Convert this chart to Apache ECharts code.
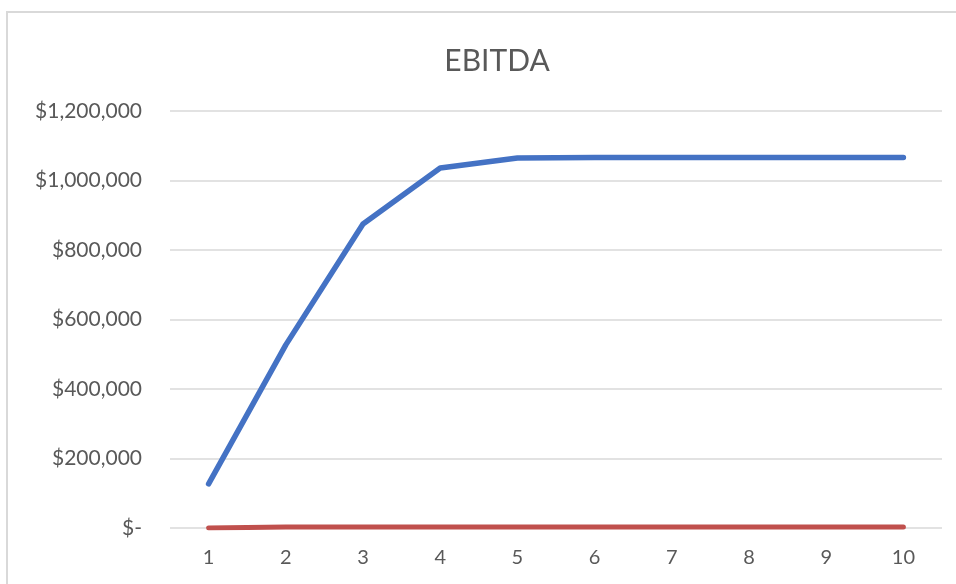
<!DOCTYPE html>
<html><head><meta charset="utf-8">
<script src="https://cdn.jsdelivr.net/npm/echarts@6/dist/echarts.min.js"></script>
<style>html,body{margin:0;padding:0;background:#fff}#c{width:956px;height:584px}</style>
</head><body><div id="c"></div>
<script>
const categories = ['1','2','3','4','5','6','7','8','9','10'];
const ebitda = [127000, 527000, 875000, 1036000, 1065000, 1066000, 1066000, 1066000, 1066000, 1066000];
const secondSeries = [0, 3000, 3000, 3000, 3000, 3000, 3000, 3000, 3000, 3000];
const yTicks = [0, 200000, 400000, 600000, 800000, 1000000, 1200000];

const chart = echarts.init(document.getElementById('c'));
const fmt = v => v === 0 ? '$-' : '$' + v.toLocaleString('en-US');
chart.setOption({
  animation: false,
  graphic: [{type:'rect', shape:{x:7,y:12,width:960,height:600}, style:{fill:'none', stroke:'#d9d9d9', lineWidth:2}}],
  title: {text:'EBITDA', top:41, left:492, textAlign:'center',
    textStyle:{fontFamily:'Lato', fontWeight:'normal', fontSize:30, color:'#595959'}},
  grid: {left:170, right:14, top:111, bottom:56, containLabel:false},
  xAxis: {type:'category', data:categories, boundaryGap:true,
    axisLine:{show:false}, axisTick:{show:false},
    axisLabel:{fontFamily:'Lato', fontSize:20, color:'#595959', margin:20}},
  yAxis: {type:'value', min:yTicks[0], max:yTicks[yTicks.length-1], interval:200000,
    axisLine:{show:false}, axisTick:{show:false},
    splitLine:{lineStyle:{color:'#d9d9d9', width:1.5}},
    axisLabel:{fontFamily:'Lato', fontSize:21, color:'#595959', margin:28, formatter:fmt}},
  series: [
    {type:'line', data:ebitda, symbol:'none', lineStyle:{color:'#4472C4', width:5.5, cap:'round', join:'round'}},
    {type:'line', data:secondSeries, symbol:'none', lineStyle:{color:'#C0504D', width:5, cap:'round', join:'round'}}
  ]
});
</script></body></html>
